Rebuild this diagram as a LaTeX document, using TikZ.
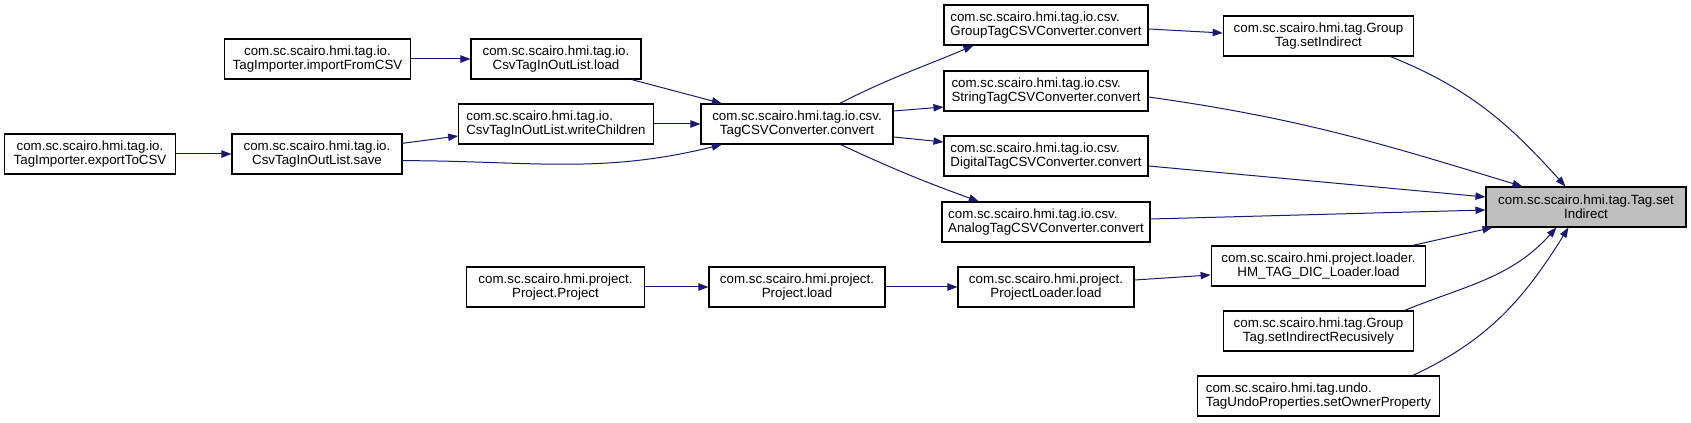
\documentclass[tikz,border=0pt]{standalone}
\usepackage{fontspec}
\setmainfont{Liberation Sans}
\usetikzlibrary{arrows.meta}
\definecolor{navy}{RGB}{25,25,112}
\definecolor{fngray}{RGB}{191,191,191}

\begin{document}
\begin{tikzpicture}[x=0.75pt, y=-0.75pt,
    every node/.style={font=\fontsize{10}{10.5}\selectfont},
    fn/.style={draw, fill=white, line width=0.8pt, minimum height=30pt, inner sep=0pt, align=center},
    fnl/.style={fn, align=left},
    call/.style={draw=navy, line width=0.75pt, -{Triangle[length=7.5pt, width=5.5pt]}}]
        % Fix the margins
        \useasboundingbox (0,0) rectangle (1691,423);

        % The function being called
        \node[fn, fill=fngray, minimum width=150pt] (tagset) at (1586,207) {com.sc.scairo.hmi.tag.Tag.set\\Indirect};

        % Import / export column
        \node[fn, minimum width=128pt] (exportcsv) at (90,154) {com.sc.scairo.hmi.tag.io.\\TagImporter.exportToCSV};
        \node[fn, minimum width=140pt] (importcsv) at (317.5,59) {com.sc.scairo.hmi.tag.io.\\TagImporter.importFromCSV};
        \node[fn, minimum width=127.5pt] (save) at (317,154) {com.sc.scairo.hmi.tag.io.\\CsvTagInOutList.save};
        \node[fn, minimum width=127.5pt] (load) at (556,59) {com.sc.scairo.hmi.tag.io.\\CsvTagInOutList.load};
        \node[fnl, minimum width=146pt] (writech) at (556,124) {com.sc.scairo.hmi.tag.io.\\CsvTagInOutList.writeChildren};
        \node[fn, minimum width=144pt] (tagconv) at (797,124) {com.sc.scairo.hmi.tag.io.csv.\\TagCSVConverter.convert};

        % Converters
        \node[fnl, minimum width=153pt] (groupconv) at (1046,25) {com.sc.scairo.hmi.tag.io.csv.\\GroupTagCSVConverter.convert};
        \node[fnl, minimum width=153pt] (stringconv) at (1046,91) {com.sc.scairo.hmi.tag.io.csv.\\StringTagCSVConverter.convert};
        \node[fnl, minimum width=153pt] (digitalconv) at (1046,156) {com.sc.scairo.hmi.tag.io.csv.\\DigitalTagCSVConverter.convert};
        \node[fnl, minimum width=156pt] (analogconv) at (1046,222) {com.sc.scairo.hmi.tag.io.csv.\\AnalogTagCSVConverter.convert};
        \node[fn, minimum width=143pt] (groupset) at (1318.5,36) {com.sc.scairo.hmi.tag.Group\\Tag.setIndirect};

        % Project loading chain
        \node[fn, minimum width=133pt] (projproj) at (555.5,287) {com.sc.scairo.hmi.project.\\Project.Project};
        \node[fn, minimum width=132pt] (projload) at (797,287) {com.sc.scairo.hmi.project.\\Project.load};
        \node[fn, minimum width=132pt] (loaderload) at (1046,287) {com.sc.scairo.hmi.project.\\ProjectLoader.load};
        \node[fn, minimum width=161pt] (hmload) at (1318.5,266) {com.sc.scairo.hmi.project.loader.\\HM\_TAG\_DIC\_Loader.load};
        \node[fn, minimum width=143pt] (recursive) at (1318.5,331) {com.sc.scairo.hmi.tag.Group\\Tag.setIndirectRecusively};
        \node[fnl, minimum width=181pt] (undoprop) at (1318.5,396) {com.sc.scairo.hmi.tag.undo.\\TagUndoProperties.setOwnerProperty};

        % Calls
        \draw[call] (exportcsv) -- (save);
        \draw[call] (importcsv) -- (load);
        \draw[call] ([yshift=8pt]save.east) -- ([yshift=-9pt]writech.west);
        \draw[call] ([yshift=-5pt]save.east) to[out=0, in=194] ([xshift=16pt]tagconv.south west);
        \draw[call] (writech) -- (tagconv);
        \draw[call] ([xshift=-7.5pt]load.south east) -- ([xshift=16pt]tagconv.north west);
        \draw[call] ([xshift=-40.5pt]tagconv.north east) to[out=27, in=203] ([xshift=22.5pt]groupconv.south west);
        \draw[call] ([yshift=9.75pt]tagconv.east) -- ([yshift=-12pt]stringconv.west);
        \draw[call] ([yshift=-9.75pt]tagconv.east) -- ([yshift=10.5pt]digitalconv.west);
        \draw[call] ([xshift=-39.75pt]tagconv.south east) to[out=-25, in=160] ([xshift=28pt]analogconv.north west);
        \draw[call] ([yshift=-3pt]groupconv.east) -- ([yshift=2.25pt]groupset.west);
        \draw[call] ([xshift=-18pt]groupset.south east) to[out=-22, in=132] ([xshift=60pt]tagset.north west);
        \draw[call] ([yshift=-4.5pt]stringconv.east) to[out=-8, in=163] ([xshift=27.75pt]tagset.north west);
        \draw[call] ([yshift=-7.5pt]digitalconv.east) -- ([yshift=7.5pt]tagset.west);
        \draw[call] ([yshift=2.25pt]analogconv.east) -- ([yshift=-2.25pt]tagset.west);
        \draw[call] ([xshift=-10.5pt]hmload.north east) -- ([xshift=5.25pt]tagset.south west);
        \draw[call] ([xshift=-7.5pt]recursive.north east) to[out=22, in=-132] ([xshift=53.25pt]tagset.south west);
        \draw[call] ([xshift=-20.25pt]undoprop.north east) to[out=25, in=-122] ([xshift=62.25pt]tagset.south west);
        \draw[call] (projproj) -- (projload);
        \draw[call] (projload) -- (loaderload);
        \draw[call] ([yshift=5.25pt]loaderload.east) -- ([yshift=-6.75pt]hmload.west);
      \end{tikzpicture}
\end{document}
